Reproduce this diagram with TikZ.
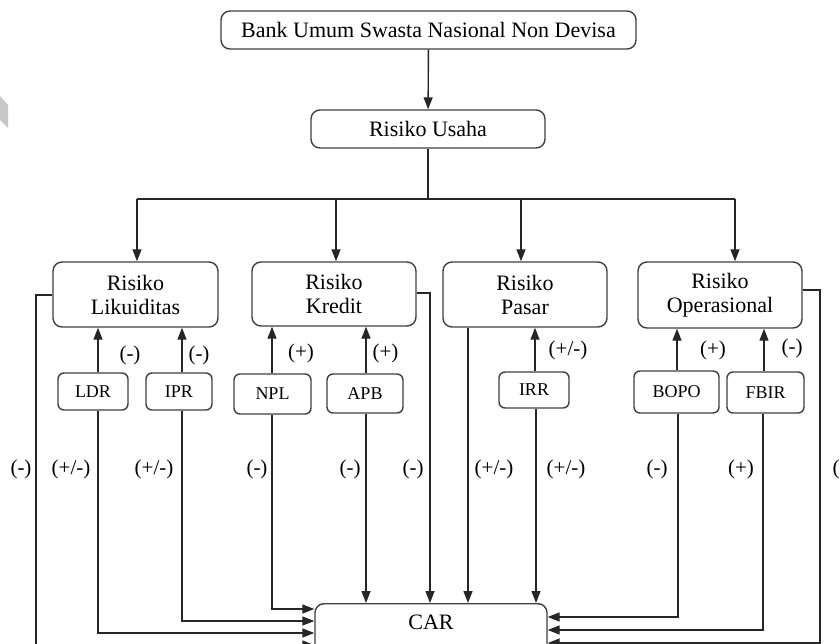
\documentclass[tikz,border=0pt]{standalone}
\usepackage{fontspec}
\setmainfont{Liberation Serif}
\usetikzlibrary{arrows.meta}
\begin{document}
\begin{tikzpicture}[x=1pt,y=-1pt,
  line width=1.4pt,
  ln/.style={draw=black!85},
  box/.style={draw=black!75,rounded corners=9pt,inner sep=0pt,align=center,font=\fontsize{22}{24}\selectfont},
  sbox/.style={draw=black!75,rounded corners=6pt,inner sep=0pt,align=center,font=\fontsize{18}{20}\selectfont},
  lbl/.style={inner sep=0pt,font=\fontsize{21}{23}\selectfont},
  arr/.style={draw=black!85,-{Triangle[length=12pt,width=9pt]}},
]
\useasboundingbox (0,0) rectangle (840,644);
\clip (0,0) rectangle (840,644);
\fill[white] (0,0) rectangle (840,644);
% watermark fragment
\fill[black!22] (0,96) -- (8,105) -- (8,128) -- (0,120) -- cycle;

% nodes
\node[box,minimum width=415pt,minimum height=38pt] (top) at (428.5,30) {Bank Umum Swasta Nasional Non Devisa};
\node[box,minimum width=234pt,minimum height=38pt] (usaha) at (428,129) {Risiko Usaha};

\node[box,minimum width=165pt,minimum height=65pt] (liq) at (135.5,294.5) {Risiko\\Likuiditas};
\node[box,minimum width=164pt,minimum height=64pt] (kre) at (334,294) {Risiko\\Kredit};
\node[box,minimum width=164pt,minimum height=65pt] (pas) at (525,294.5) {Risiko\\Pasar};
\node[box,minimum width=164pt,minimum height=66pt] (ope) at (720,295) {Risiko\\Operasional};

\node[sbox,minimum width=70pt,minimum height=37pt] (ldr) at (93,391.5) {LDR};
\node[sbox,minimum width=66pt,minimum height=37pt] (ipr) at (179,391.5) {IPR};
\node[sbox,minimum width=77pt,minimum height=40pt] (npl) at (272.5,394) {NPL};
\node[sbox,minimum width=76pt,minimum height=39pt] (apb) at (365,393.5) {APB};
\node[sbox,minimum width=70pt,minimum height=36pt] (irr) at (534,390) {IRR};
\node[sbox,minimum width=85pt,minimum height=42pt] (bopo) at (676.5,392) {BOPO};
\node[sbox,minimum width=77pt,minimum height=41pt] (fbir) at (765.5,392.5) {FBIR};

\node[box,minimum width=232pt,minimum height=90pt,anchor=north] (car) at (431,603) {};
\node[inner sep=0pt,font=\fontsize{22}{24}\selectfont] (cartxt) at (431,622) {CAR};

% top connections
\draw[arr] (top) -- (usaha);
\coordinate (bus) at (428,199);
\coordinate (b1) at (137,199);
\coordinate (b2) at (336,199);
\coordinate (b3) at (521,199);
\coordinate (b4) at (735,199);
\draw[ln] (usaha.south) -- (bus);
\draw[ln] (b1) -- (b4);
\draw[arr] (b1) -- (liq.north -| b1);
\draw[arr] (b2) -- (kre.north -| b2);
\draw[arr] (b3) -- (pas.north -| b3);
\draw[arr] (b4) -- (ope.north -| b4);

% indicator -> risk
\draw[arr] (ldr.north -| 98,0) -- (liq.south -| 98,0);
\draw[arr] (ipr.north -| 182,0) -- (liq.south -| 182,0);
\draw[arr] (npl.north -| 272,0) -- (kre.south -| 272,0);
\draw[arr] (apb.north -| 366,0) -- (kre.south -| 366,0);
\draw[arr] (irr.north -| 535,0) -- (pas.south -| 535,0);
\draw[arr] (bopo.north -| 677,0) -- (ope.south -| 677,0);
\draw[arr] (fbir.north -| 764,0) -- (ope.south -| 764,0);

% to CAR, left side
\draw[arr] (liq.west |- 0,295) -| (36,645) -- (car.west |- 0,645);
\draw[arr] (ldr.south -| 98,0) |- (car.west |- 0,633);
\draw[arr] (ipr.south -| 182,0) |- (car.west |- 0,621);
\draw[arr] (npl.south -| 272,0) |- (car.west |- 0,609);
% to CAR, top
\draw[arr] (apb.south -| 366,0) -- (car.north -| 366,0);
\draw[arr] (kre.east |- 0,293) -| (car.north -| 430,0);
\draw[arr] (pas.south -| 468,0) -- (car.north -| 468,0);
\draw[arr] (irr.south -| 536,0) -- (car.north -| 536,0);
% to CAR, right side
\draw[arr] (bopo.south -| 678,0) |- (car.east |- 0,617);
\draw[arr] (fbir.south -| 763,0) |- (car.east |- 0,630);
\draw[arr] (ope.east |- 0,290) -| (820,643) -- (car.east |- 0,643);

% labels upper row
\node[lbl] (l1) at (130,355) {(-)};
\node[lbl] (l2) at (199,355) {(-)};
\node[lbl] (l3) at (301,353) {(+)};
\node[lbl] (l4) at (385.5,353) {(+)};
\node[lbl] (l5) at (568,350) {(+/-)};
\node[lbl] (l6) at (713,350) {(+)};
\node[lbl] (l7) at (792,348) {(-)};
% labels lower row
\node[lbl] (m1) at (21,469) {(-)};
\node[lbl] (m2) at (71,469) {(+/-)};
\node[lbl] (m3) at (154,469) {(+/-)};
\node[lbl] (m4) at (257,469) {(-)};
\node[lbl] (m5) at (350,469) {(-)};
\node[lbl] (m6) at (413,469) {(-)};
\node[lbl] (m7) at (494,469) {(+/-)};
\node[lbl] (m8) at (566,469) {(+/-)};
\node[lbl] (m9) at (657,469) {(-)};
\node[lbl] (m10) at (741,469) {(+)};
\node[lbl] (m11) at (843,469) {(-)};
\end{tikzpicture}
\end{document}
